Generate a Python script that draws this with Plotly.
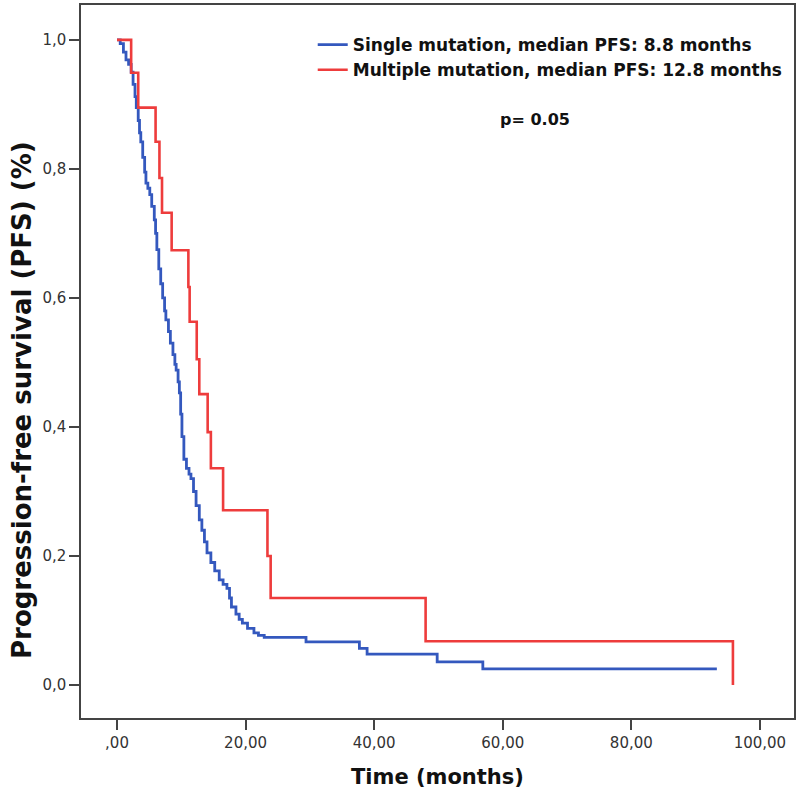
import plotly.graph_objects as go

# Single mutation (blue) Kaplan-Meier curve
single_t = [0.0, 0.5, 1.0, 1.4, 1.8, 2.2, 2.5, 2.8, 3.0, 3.3, 3.5, 3.7, 4.0, 4.3, 4.5, 4.8,
            5.1, 5.4, 5.8, 6.0, 6.2, 6.5, 6.8, 7.1, 7.4, 7.6, 8.0, 8.3, 8.7, 9.0, 9.2, 9.5,
            9.7, 9.9, 10.1, 10.4, 10.8, 11.2, 11.5, 11.9, 12.3, 12.8, 13.2, 13.6, 14.0, 14.6,
            15.2, 15.9, 16.5, 17.1, 17.5, 17.8, 18.5, 19.0, 19.5, 20.3, 21.3, 22.0, 22.9,
            29.4, 37.7, 38.9, 49.8, 56.9, 93.3]
single_s = [1.000, 0.994, 0.981, 0.969, 0.962, 0.950, 0.931, 0.912, 0.895, 0.875, 0.856, 0.842,
            0.818, 0.795, 0.778, 0.770, 0.760, 0.742, 0.721, 0.700, 0.675, 0.645, 0.622, 0.600,
            0.580, 0.566, 0.548, 0.530, 0.512, 0.497, 0.488, 0.470, 0.453, 0.420, 0.385, 0.350,
            0.336, 0.327, 0.320, 0.300, 0.278, 0.256, 0.240, 0.222, 0.205, 0.190, 0.177, 0.163,
            0.156, 0.150, 0.135, 0.121, 0.110, 0.102, 0.096, 0.088, 0.081, 0.077, 0.074, 0.067,
            0.057, 0.048, 0.036, 0.025, 0.025]

# Multiple mutation (red) Kaplan-Meier curve
multi_t = [0.0, 2.2, 3.3, 6.0, 6.6, 7.0, 8.5, 11.1, 11.3, 12.4, 12.8, 14.1, 14.6, 16.5,
           23.4, 23.9, 48.0, 95.8, 95.8]
multi_s = [1.000, 0.949, 0.895, 0.842, 0.786, 0.732, 0.674, 0.617, 0.563, 0.505, 0.451,
           0.392, 0.336, 0.271, 0.200, 0.135, 0.068, 0.000, 0.000]

single_name = "Single mutation, median PFS: 8.8 months"
multi_name = "Multiple mutation, median PFS: 12.8 months"
p_text = "p= 0.05"
x_title = "Time (months)"
y_title = "Progression-free survival (PFS) (%)"

x_ticks = [0, 20, 40, 60, 80, 100]
x_tick_text = [",00", "20,00", "40,00", "60,00", "80,00", "100,00"]
y_ticks = [0.0, 0.2, 0.4, 0.6, 0.8, 1.0]
y_tick_text = ["0,0", "0,2", "0,4", "0,6", "0,8", "1,0"]

BLUE = "rgb(52,88,190)"
RED = "rgb(238,60,60)"
FONT = "DejaVu Sans, Verdana, sans-serif"
TXT = "#111111"

fig = go.Figure()
fig.add_trace(go.Scatter(x=single_t, y=single_s, mode="lines", name="<b>" + single_name + "</b>",
                         line=dict(color=BLUE, width=2.8, shape="hv")))
fig.add_trace(go.Scatter(x=multi_t, y=multi_s, mode="lines", name="<b>" + multi_name + "</b>",
                         line=dict(color=RED, width=2.6, shape="hv")))

fig.add_annotation(x=65, y=0.876, text="<b>" + p_text + "</b>", showarrow=False,
                   font=dict(family=FONT, size=16, color=TXT))
fig.add_annotation(xref="paper", yref="paper", x=0.5, y=0, yshift=-59, xanchor="center",
                   yanchor="middle", text="<b>" + x_title + "</b>", showarrow=False,
                   font=dict(family=FONT, size=21, color=TXT))
fig.add_annotation(xref="paper", yref="paper", x=0, xshift=-59, y=0.446, xanchor="center",
                   yanchor="middle", textangle=-90, text="<b>" + y_title + "</b>",
                   showarrow=False, font=dict(family=FONT, size=26, color=TXT))

axis_common = dict(showline=True, linecolor="#444444", linewidth=1.5, mirror=True,
                   ticks="outside", ticklen=10, tickwidth=1.5, tickcolor="#444444",
                   showgrid=False, zeroline=False, automargin=False,
                   tickfont=dict(family=FONT, size=15, color="#333333"))

fig.update_layout(
    width=800, height=803,
    margin=dict(l=81, r=6, t=5, b=85, autoexpand=False),
    paper_bgcolor="white", plot_bgcolor="white",
    xaxis=dict(range=[-5.6, 105.3], tickvals=x_ticks, ticktext=x_tick_text, **axis_common),
    yaxis=dict(range=[-0.051, 1.054], tickvals=y_ticks, ticktext=y_tick_text, **axis_common),
    legend=dict(x=0.325, y=0.969, xanchor="left", yanchor="top",
                bgcolor="rgba(0,0,0,0)", itemwidth=30, tracegroupgap=0,
                font=dict(family=FONT, size=17, color=TXT)),
    showlegend=True,
)

fig.write_html("out.html", config={"displayModeBar": False},
               post_script="document.body.style.margin='0px';")
